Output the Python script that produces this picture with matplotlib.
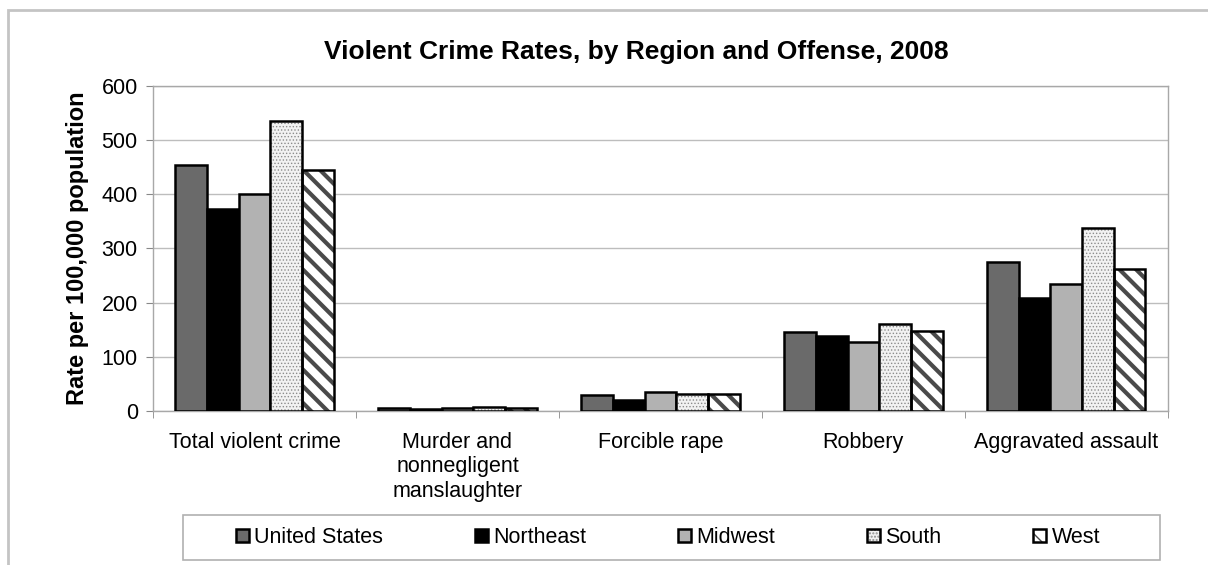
import numpy as np
from matplotlib import pyplot as plt
from matplotlib.patches import Rectangle

plt.rcParams['font.family'] = ['Liberation Sans', 'DejaVu Sans']

# offense categories on the x axis
categories = ["Total violent crime", "Murder and\nnonnegligent\nmanslaughter",
              "Forcible rape", "Robbery", "Aggravated assault"]
regions = ["United States", "Northeast", "Midwest", "South", "West"]

# rate per 100,000 population
us = [454.5, 5.4, 29.3, 145.3, 274.6]
northeast = [372.0, 4.2, 21.0, 139.0, 208.0]
midwest = [400.0, 4.7, 34.5, 127.0, 234.0]
south = [535.0, 6.6, 31.0, 160.0, 338.0]
west = [445.0, 4.8, 30.5, 147.0, 263.0]

yticks = [0, 100, 200, 300, 400, 500, 600]

series = [us, northeast, midwest, south, west]
faces = ["#6a6a6a", "#000000", "#b2b2b2", "#f2f2f2", "#ffffff"]
hatches = [None, None, None, ".....", "\\\\"]
hatch_cols = [None, None, None, "#8c8c8c", "#4a4a4a"]
hatch_lw = [1, 1, 1, 0.6, 3.0]

fig = plt.figure(figsize=(12.08, 5.65), dpi=100)
ax = fig.add_axes([0.1267, 0.2726, 0.84, 0.5752])

x = np.arange(len(categories))
w = 0.156
handles = []
for i, vals in enumerate(series):
    pos = x + (i - 2) * w
    if hatches[i] is None:
        b = ax.bar(pos, vals, w, color=faces[i], edgecolor="black",
                   linewidth=1.8, zorder=3)
        handles.append(b[0])
    else:
        # hatch drawn in grey, then a black outline on top
        with plt.rc_context({'hatch.linewidth': hatch_lw[i]}):
            h = ax.bar(pos, vals, w, color=faces[i], edgecolor=hatch_cols[i],
                       linewidth=0, hatch=hatches[i], zorder=3)
        o = ax.bar(pos, vals, w, facecolor="none", edgecolor="black",
                   linewidth=1.8, zorder=4)
        handles.append((h[0], o[0]))

ax.set_xlim(-0.5, len(categories) - 0.5)
ax.set_ylim(0, 600)
ax.set_yticks(yticks)
ax.yaxis.grid(True, color="#bdbdbd", linewidth=1, zorder=0)
ax.set_xticks(x)
ax.set_xticklabels(categories, fontsize=15.5, linespacing=1.22)
ax.set_xticks(np.arange(-0.5, len(categories)), minor=True)
ax.tick_params(axis="x", which="major", length=0, pad=15)
ax.tick_params(axis="x", which="minor", length=5, color="#888888")
ax.tick_params(axis="y", length=5, color="#888888", labelsize=15.5, pad=6)
for s in ax.spines.values():
    s.set_color("#a8a8a8")
    s.set_linewidth(1)

ax.set_ylabel("Rate per 100,000 population", fontsize=17, fontweight="bold", labelpad=9)
fig.suptitle("Violent Crime Rates, by Region and Offense, 2008", fontsize=19,
             fontweight="bold", x=0.5265, y=0.908, va="center")

leg = fig.legend(handles, regions, loc="center", bbox_to_anchor=(0.553, 0.0487),
                 ncol=5, fontsize=15.5, frameon=False,
                 handlelength=0.6, handleheight=0.6, handletextpad=0.25,
                 columnspacing=4.27)

# legend box
fig.patches.append(Rectangle((183 / 1208, 1 - 560 / 565), 977 / 1208, 45 / 565,
                             transform=fig.transFigure, fill=False,
                             edgecolor="#b0b0b0", linewidth=1.2))
# outer chart frame
fig.patches.append(Rectangle((8 / 1208, -0.05), 1.2, 1 - 10 / 565 + 0.05,
                             transform=fig.transFigure, fill=False,
                             edgecolor="#c4c4c4", linewidth=2))

fig.savefig("out.png", dpi=100)
